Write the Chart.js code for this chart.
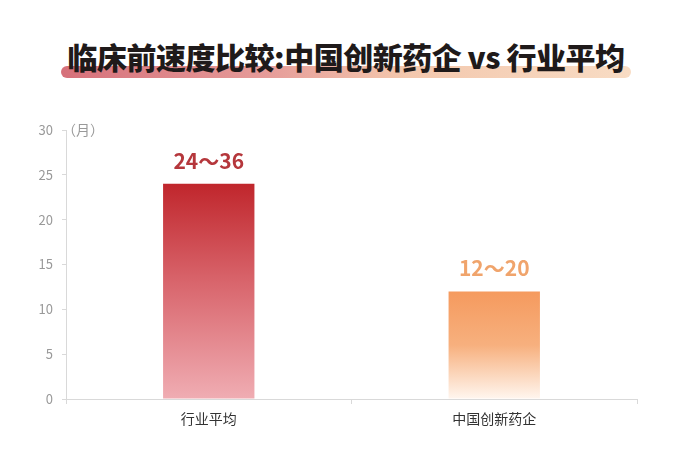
<!DOCTYPE html>
<html lang="zh">
<head>
<meta charset="utf-8">
<title>临床前速度比较</title>
<script src="https://cdn.jsdelivr.net/npm/chart.js@4/dist/chart.umd.min.js"></script>
<style>
  html, body { margin: 0; padding: 0; background: #fff; }
  #wrap { position: relative; width: 692px; height: 465px; overflow: hidden; }
  #band {
    position: absolute; left: 61px; top: 66px; width: 570px; height: 12px;
    border-radius: 6px;
    background: linear-gradient(90deg, #d6707a 0%, #e59a98 35%, #f3c7ad 60%, #f8dcc4 100%);
  }
  #titulo {
    position: absolute; left: 0; top: 36px; width: 692px; text-align: center;
    font-family: "Noto Sans CJK SC", sans-serif; font-weight: 900; font-size: 30px;
    color: #1f1a1a; letter-spacing: -0.5px; line-height: 40px;
  }
  canvas { position: absolute; left: 0; top: 0; }
</style>
</head>
<body>
<div id="wrap">
  <div id="band"></div>
  <div id="titulo">临床前速度比较:中国创新药企 vs 行业平均</div>
  <canvas id="grafico" width="692" height="465"></canvas>
</div>
<script>
// Datos
const categorias = ["行业平均", "中国创新药企"];
const valores = [24, 12];
const etiquetasValor = ["24～36", "12～20"];
const coloresEtiqueta = ["#b5373c", "#f0a46c"];
const ticksY = [0, 5, 10, 15, 20, 25, 30];

// Etiquetas de valor sobre las barras
const etiquetasPlugin = {
  id: "etiquetas",
  afterDatasetsDraw(chart) {
    const ctx = chart.ctx;
    const meta = chart.getDatasetMeta(0);
    ctx.save();
    ctx.font = "bold 21px 'Noto Sans CJK SC', sans-serif";
    ctx.textAlign = "center";
    ctx.textBaseline = "middle";
    meta.data.forEach((bar, i) => {
      ctx.fillStyle = coloresEtiqueta[i];
      ctx.fillText(etiquetasValor[i], bar.x, bar.y - 23);
    });
    // unidad del eje
    ctx.font = "14px 'Noto Sans CJK SC', sans-serif";
    ctx.fillStyle = "#999";
    ctx.textAlign = "left";
    ctx.fillText("（月）", chart.chartArea.left - 4, chart.chartArea.top);
    ctx.restore();
  }
};

function colorBarra(c) {
  const chart = c.chart;
  const area = chart.chartArea;
  const y = chart.scales.y;
  if (!area || !y) return "#d8646b";
  const tope = y.getPixelForValue(valores[c.dataIndex]);
  if (!isFinite(tope)) return "#d8646b";
  const g = chart.ctx.createLinearGradient(0, tope, 0, area.bottom);
  if (c.dataIndex === 0) {
    g.addColorStop(0, "#c0262c");
    g.addColorStop(0.45, "#d8646b");
    g.addColorStop(1, "#f0adb3");
  } else {
    g.addColorStop(0, "#f59a5e");
    g.addColorStop(0.5, "#f7b07e");
    g.addColorStop(1, "#fff6ef");
  }
  return g;
}

const ctx = document.getElementById("grafico");
new Chart(ctx, {
  type: "bar",
  data: {
    labels: categorias,
    datasets: [{
      data: valores,
      backgroundColor: colorBarra,
      barPercentage: 0.64,
      categoryPercentage: 0.5
    }]
  },
  options: {
    responsive: false,
    animation: false,
    layout: { padding: { top: 130, right: 55, bottom: 0, left: 0 } },
    plugins: {
      legend: { display: false },
      tooltip: { enabled: false }
    },
    scales: {
      x: {
        afterFit: (s) => { s.height = 66; },
        grid: {
          offset: true,
          drawOnChartArea: false,
          drawTicks: true,
          tickLength: 5,
          color: "#d9d9d9"
        },
        border: { color: "#d9d9d9" },
        ticks: {
          color: "#333",
          padding: 6,
          font: { family: "'Noto Sans CJK SC', sans-serif", size: 14 }
        }
      },
      y: {
        min: 0,
        max: 30,
        afterFit: (s) => { s.width = 66; },
        afterBuildTicks: (s) => { s.ticks = ticksY.map(v => ({ value: v })); },
        grid: {
          drawOnChartArea: false,
          drawTicks: true,
          tickLength: 4,
          color: "#d9d9d9"
        },
        border: { color: "#d9d9d9" },
        ticks: {
          color: "#999",
          padding: 9,
          font: { family: "'Noto Sans CJK SC', sans-serif", size: 13 }
        }
      }
    }
  },
  plugins: [etiquetasPlugin]
});
</script>
</body>
</html>
